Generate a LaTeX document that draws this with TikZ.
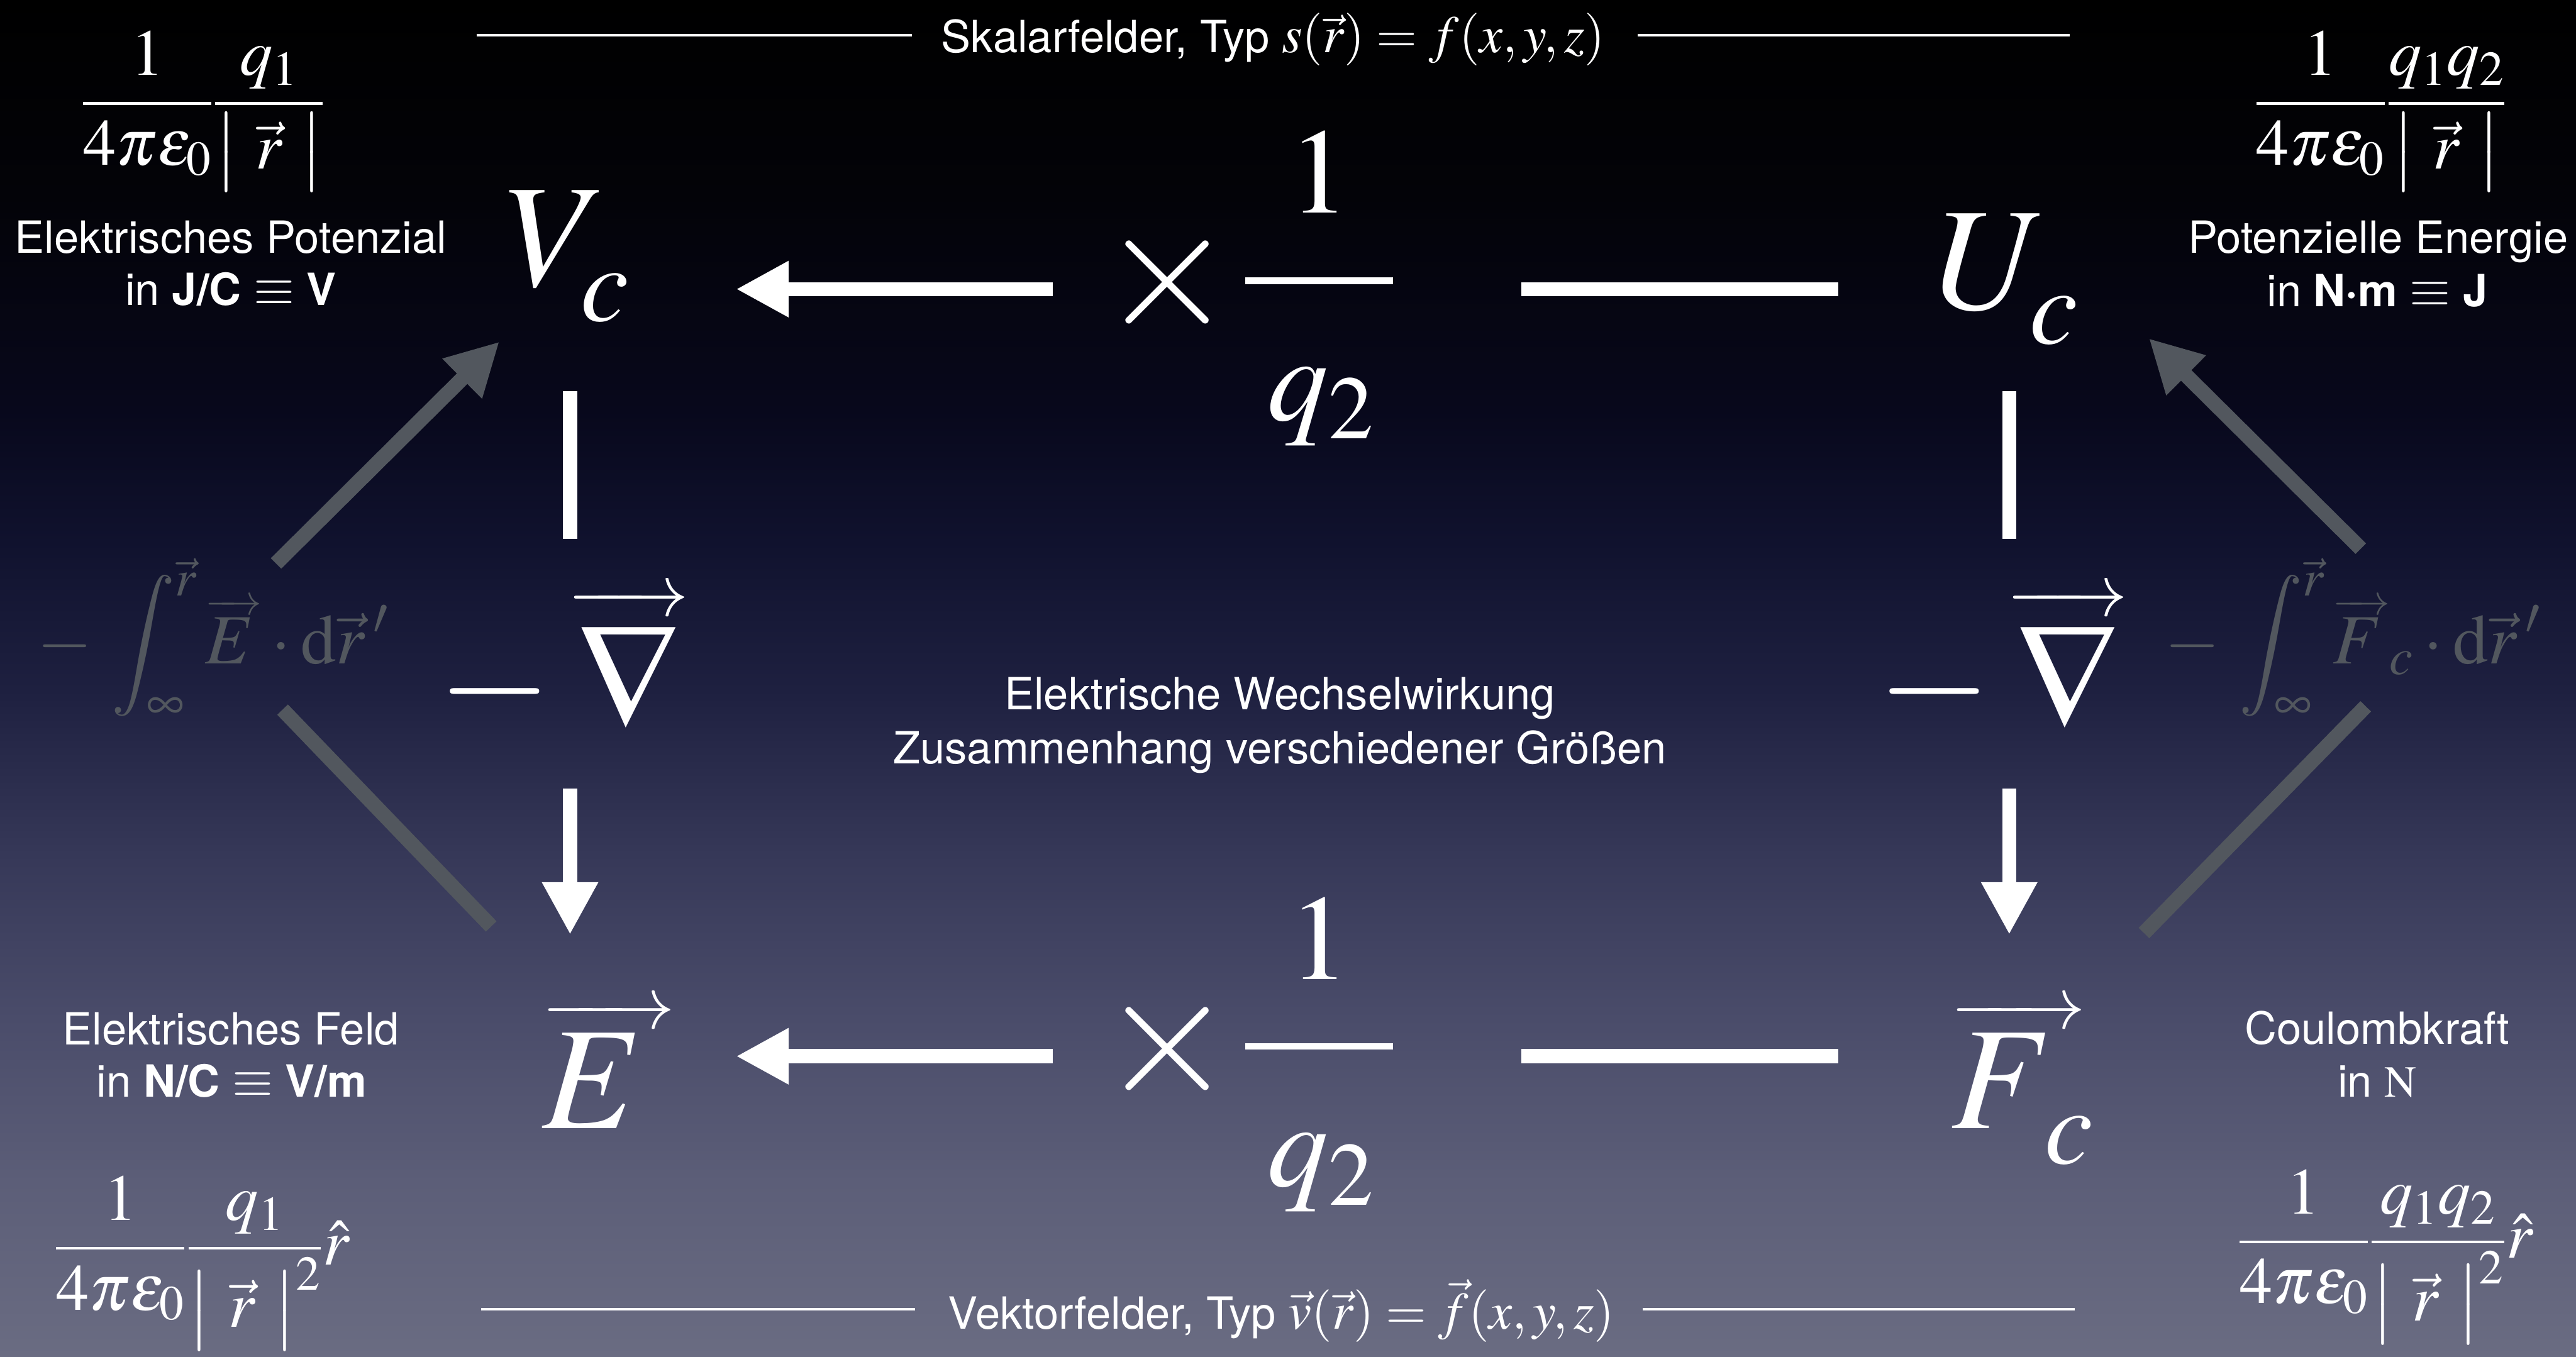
\documentclass[tikz,border=0pt]{standalone}
\usepackage{mathptmx}
\usepackage[no-math]{fontspec}
\setmainfont{TeX Gyre Heros}
\usetikzlibrary{arrows.meta}
\definecolor{gry}{RGB}{82,87,94}
\definecolor{c0}{RGB}{0,0,0}
\definecolor{c1}{RGB}{3,3,8}
\definecolor{c2}{RGB}{8,8,28}
\definecolor{c3}{RGB}{16,18,46}
\definecolor{c4}{RGB}{30,32,64}
\definecolor{c5}{RGB}{54,56,88}
\definecolor{c6}{RGB}{74,76,106}
\definecolor{c7}{RGB}{92,94,120}
\definecolor{c8}{RGB}{106,108,130}
\pgfdeclareverticalshading{bgshade}{100bp}{color(0bp)=(c8); color(25bp)=(c8); color(31.42bp)=(c7); color(37.47bp)=(c6); color(43.52bp)=(c5); color(49.58bp)=(c4); color(55.02bp)=(c3); color(59.87bp)=(c2); color(67.74bp)=(c1); color(75bp)=(c0); color(100bp)=(c0)}
\newcommand{\mthL}[1]{{\fontsize{32}{34}\selectfont$#1$}}
% vector arrow of chosen size over a symbol
\newcommand{\myvec}[3]{\vbox{\offinterlineskip\halign{\hfil##\hfil\cr{\fontsize{#1}{#1}\selectfont\rightarrowfill}\cr\noalign{\kern#2}\hbox{$#3$}\cr}}}
\newcommand{\subc}{\lower8pt\hbox{$\scriptstyle c$}}
\newcommand{\absr}{\left|\rule[-13pt]{0pt}{46pt}\mkern5mu\vec r\mkern5mu\right|}
\begin{document}
\begin{tikzpicture}[x=1pt,y=-1pt,
  lab/.style={text=white, inner sep=0, anchor=base, font=\fontsize{27}{33}\selectfont},
  bigm/.style={text=white, inner sep=0, anchor=base, font=\fontsize{89}{100}\selectfont},
  timesm/.style={text=white, inner sep=0, font=\fontsize{105}{110}\selectfont},
  fracm/.style={text=white, inner sep=0, font=\fontsize{74}{80}\selectfont},
  formm/.style={text=white, inner sep=0, anchor=base, font=\fontsize{40}{43}\selectfont},
  intm/.style={text=gry, inner sep=0, anchor=base, font=\fontsize{43}{46}\selectfont},
  wline/.style={white, line width=8.6pt},
  warrow/.style={wline, -{Triangle[length=32pt,width=32pt]}},
  gline/.style={gry, line width=9pt},
  garrow/.style={gline, -{Triangle[length=32pt,width=32pt]}},
  rule/.style={white, line width=1.6pt}
]
\shade[shading=bgshade] (0,0) rectangle (1568,826);
\useasboundingbox (0,0) rectangle (1568,826);

% titles
\node[lab] (ttl) at (775,32) {Skalarfelder, Typ \mthL{s(\vec r) = f(x,y,z)}};
\node[lab] (btl) at (780,809) {Vektorfelder, Typ \mthL{\vec v(\vec r) = \vec f(x,y,z)}};
\draw[rule] (290,21.5) -- (555,21.5);
\draw[rule] (997,21.5) -- (1260,21.5);
\draw[rule] (293,797) -- (557,797);
\draw[rule] (1000,797) -- (1263,797);

% main quantities
\node[bigm] (Vc) at (345.5,174) {$V_{\subc}$};
\node[bigm] (Uc) at (1221.5,188) {$U_{\subc}$};
\node[bigm] (E) at (370.5,687) {$\myvec{45}{3pt}{E\mkern4mu}$};
\node[bigm] (Fc) at (1231,687) {${\myvec{45}{3pt}{F\mkern4mu}\mkern-5mu}_{\subc}$};

% multiplication labels
\node[timesm] (t1) at (710.5,172) {$\times$};
\node[fracm] (n1) at (803,105) {$1$};
\node[fracm] (d1) at (804,247.5) {$q_2$};
\draw[white, line width=4pt] (758,171) -- (848,171);
\node[timesm] (t2) at (710.5,638.5) {$\times$};
\node[fracm] (n2) at (803,571.5) {$1$};
\node[fracm] (d2) at (804,714) {$q_2$};
\draw[white, line width=4pt] (758,637) -- (848,637);

% nabla labels
\node[bigm] (nL) at (343,443) {$-\mkern2mu\myvec{45}{4pt}{\mkern1mu\nabla\mkern1mu}$};
\node[bigm] (nR) at (1219,443) {$-\mkern2mu\myvec{45}{4pt}{\mkern1mu\nabla\mkern1mu}$};

% integrals
\node[intm] (intL) at (129.5,404) {$-\mkern3mu\displaystyle\int_\infty^{\vec r}\myvec{26}{2pt}{E\mkern2mu}\cdot\mathrm{d}\vec r\,'$};
\node[intm] (intR) at (1432,404) {$-\mkern3mu\displaystyle\int_\infty^{\vec r}{\myvec{26}{2pt}{F\mkern2mu}}_c\cdot\mathrm{d}\vec r\,'$};

% center text
\node[lab] (c1) at (779,432) {Elektrische Wechselwirkung};
\node[lab] (c2) at (779,465) {Zusammenhang verschiedener Größen};

% side labels
\node[lab] (lVa) at (140.5,154) {Elektrisches Potenzial};
\node[lab] (lVb) at (140.5,186) {in \textbf{J/C} \mthL{\equiv} \textbf{V}};
\node[lab] (lUa) at (1447.5,154) {Potenzielle Energie};
\node[lab] (lUb) at (1447,186.5) {in \textbf{N·m} \mthL{\equiv} \textbf{J}};
\node[lab] (lEa) at (140.6,636) {Elektrisches Feld};
\node[lab] (lEb) at (141,667.7) {in \textbf{N/C} \mthL{\equiv} \textbf{V/m}};
\node[lab] (lFa) at (1447,635.6) {Coulombkraft};
\node[lab] (lFb) at (1447,667.7) {in $\mathrm{N}$};

% formulas
\node[formm] (fTL) at (123.5,73) {$\displaystyle\frac{1}{4\pi\epsilon_0}\frac{q_1}{\absr}$};
\node[formm] (fTR) at (1449,73) {$\displaystyle\frac{1}{4\pi\epsilon_0}\frac{q_1q_2}{\absr}$};
\node[formm] (fBL) at (123,770) {$\displaystyle\frac{1}{4\pi\epsilon_0}\frac{q_1}{\absr^2}\hat r$};
\node[formm] (fBR) at (1452,766) {$\displaystyle\frac{1}{4\pi\epsilon_0}\frac{q_1q_2}{\absr^2}\hat r$};

% white connectors
\draw[warrow] ([shift={(-69.5,4)}]t1.center) -- ([shift={(102.5,2)}]Vc.base);
\draw[wline] ([shift={(-102.5,-12)}]Uc.base) -- ([shift={(215.5,4)}]t1.center);
\draw[warrow] ([shift={(-69.5,4.5)}]t2.center) -- ([shift={(77.5,-44)}]E.base);
\draw[wline] ([shift={(-112,-44)}]Fc.base) -- ([shift={(215.5,4.5)}]t2.center);
\draw[wline] ([shift={(1.5,64)}]Vc.base) -- ([shift={(4,-115)}]nL.base);
\draw[warrow] ([shift={(4,37)}]nL.base) -- ([shift={(-23.5,-118)}]E.base);
\draw[wline] ([shift={(1.5,50)}]Uc.base) -- ([shift={(4,-115)}]nR.base);
\draw[warrow] ([shift={(4,37)}]nR.base) -- ([shift={(-8,-118)}]Fc.base);

% gray connectors
\draw[garrow] ([shift={(38.5,-61)}]intL.base) -- ([shift={(-41.5,34)}]Vc.base);
\draw[gline] ([shift={(42.5,28)}]intL.base) -- ([shift={(-71.5,-123)}]E.base);
\draw[garrow] ([shift={(5,-70)}]intR.base) -- ([shift={(86.5,18)}]Uc.base);
\draw[gline] ([shift={(8,26)}]intR.base) -- ([shift={(74,-119)}]Fc.base);
\end{tikzpicture}
\end{document}
